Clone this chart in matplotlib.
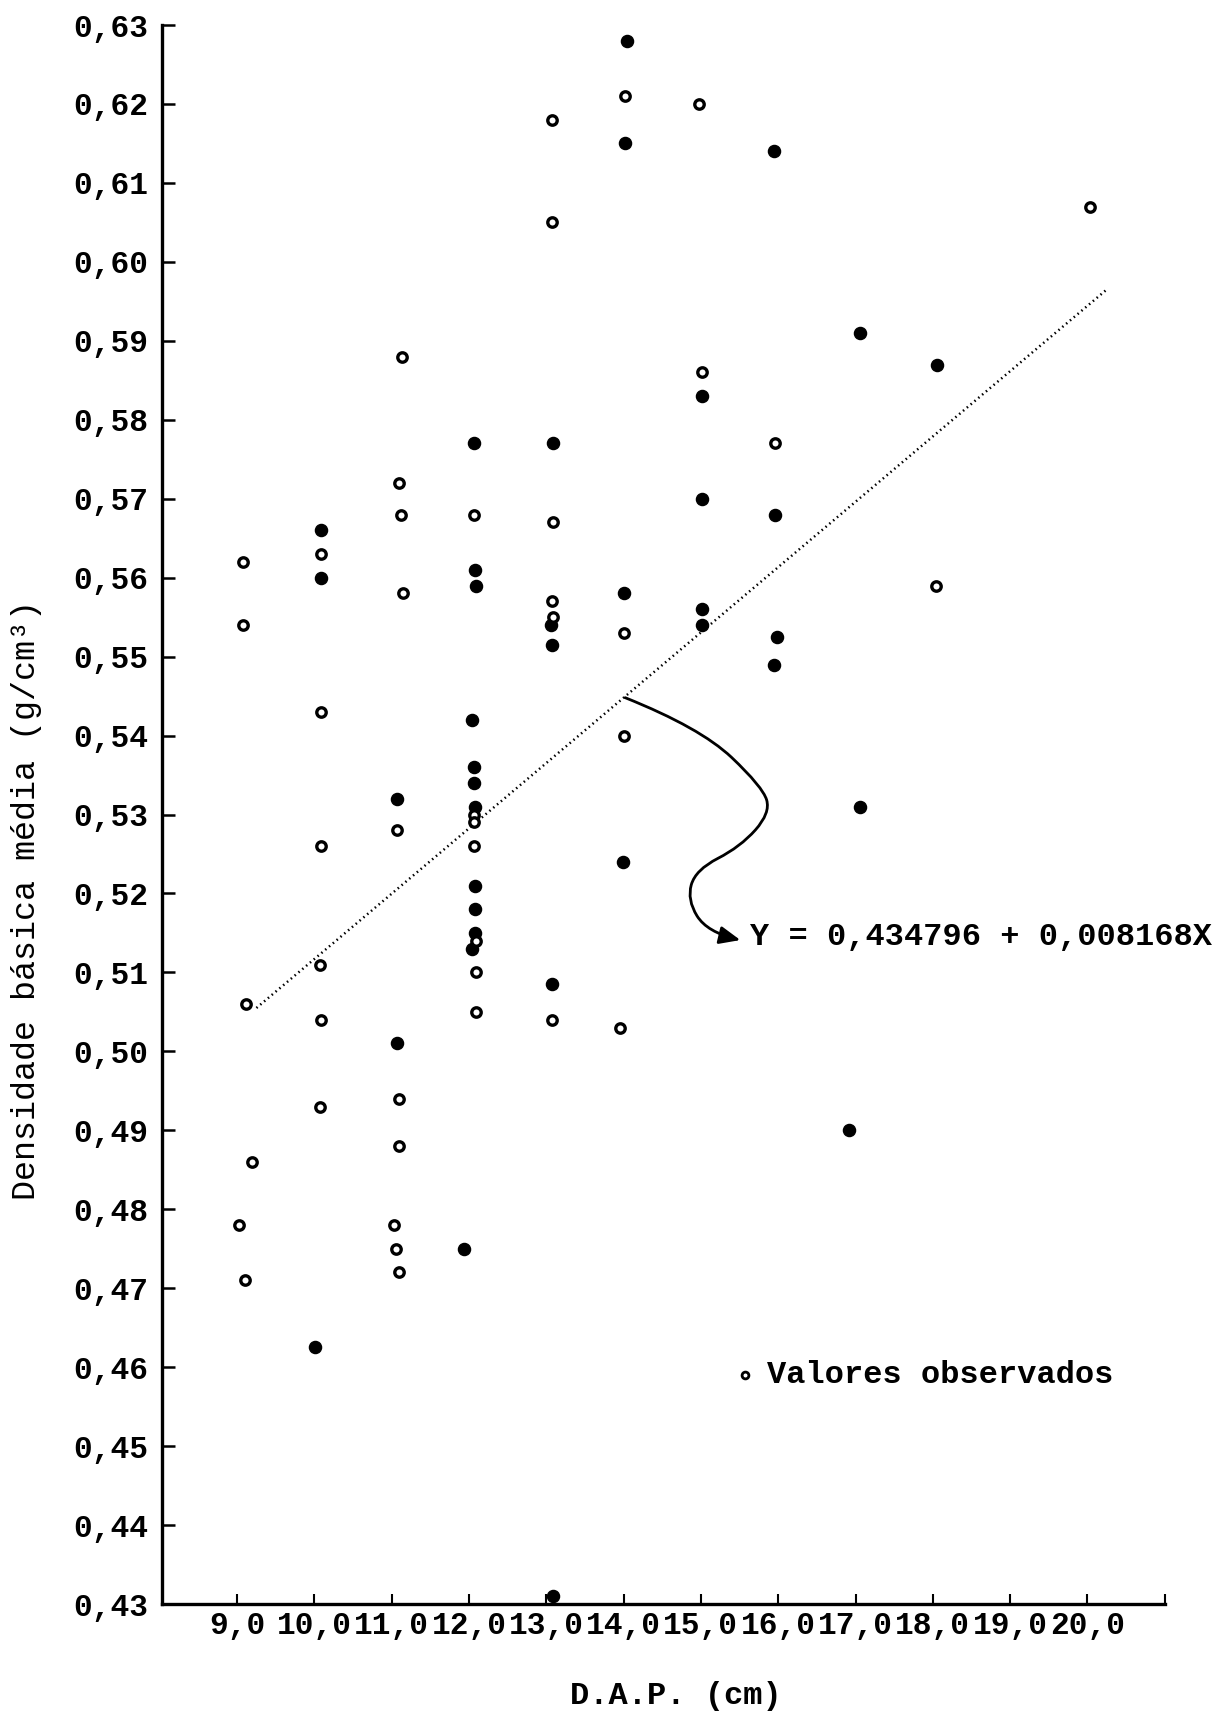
import matplotlib
matplotlib.use('Agg')
import matplotlib.pyplot as plt
from matplotlib.path import Path
from matplotlib.patches import FancyArrowPatch

plt.rcParams['font.family'] = ['Liberation Mono', 'DejaVu Sans Mono']
plt.rcParams['font.weight'] = 'bold'

# ---- data ----
open_x = [9.08, 9.08, 9.12, 9.19, 9.02, 9.10,
          10.09, 10.09, 10.09, 10.07, 10.09, 10.07,
          11.13, 11.09, 11.12, 11.14, 11.07, 11.10, 11.10, 11.03, 11.05, 11.10,
          12.06, 12.06, 12.06, 12.06, 12.09, 12.09, 12.09,
          13.07, 13.07, 13.08, 13.07, 13.08, 13.07,
          14.02, 14.00, 14.00, 13.95,
          14.98, 15.02,
          15.96,
          18.04,
          20.03]
open_y = [0.562, 0.554, 0.506, 0.486, 0.478, 0.471,
          0.563, 0.543, 0.526, 0.511, 0.504, 0.493,
          0.588, 0.572, 0.568, 0.558, 0.528, 0.494, 0.488, 0.478, 0.475, 0.472,
          0.568, 0.530, 0.529, 0.526, 0.514, 0.510, 0.505,
          0.618, 0.605, 0.567, 0.557, 0.555, 0.504,
          0.621, 0.553, 0.540, 0.503,
          0.620, 0.586,
          0.577,
          0.559,
          0.607]

filled_x = [10.09, 10.08, 10.01,
            11.07, 11.07,
            12.06, 12.08, 12.09, 12.04, 12.06, 12.07, 12.08, 12.08, 12.08, 12.08, 12.04, 11.94,
            13.08, 13.06, 13.07, 13.07, 13.08,
            14.05, 14.02, 14.00, 13.99,
            15.02, 15.02, 15.02, 15.02,
            15.94, 15.96, 15.98, 15.94,
            17.06, 17.06, 16.91,
            18.06]
filled_y = [0.566, 0.560, 0.4625,
            0.532, 0.501,
            0.577, 0.561, 0.559, 0.542, 0.536, 0.534, 0.531, 0.521, 0.518, 0.515, 0.513, 0.475,
            0.577, 0.554, 0.5515, 0.5085, 0.431,
            0.628, 0.615, 0.558, 0.524,
            0.583, 0.570, 0.556, 0.554,
            0.614, 0.568, 0.5525, 0.549,
            0.591, 0.531, 0.490,
            0.587]

reg_x = [9.25, 20.25]
reg_y = [0.5055, 0.5965]

x_ticks = [9, 10, 11, 12, 13, 14, 15, 16, 17, 18, 19, 20, 21]
x_tick_labels = ['9,0', '10,0', '11,0', '12,0', '13,0', '14,0', '15,0',
                 '16,0', '17,0', '18,0', '19,0', '20,0', '']
y_ticks = [0.43, 0.44, 0.45, 0.46, 0.47, 0.48, 0.49, 0.50, 0.51, 0.52,
           0.53, 0.54, 0.55, 0.56, 0.57, 0.58, 0.59, 0.60, 0.61, 0.62, 0.63]
y_tick_labels = ['0,43', '0,44', '0,45', '0,46', '0,47', '0,48', '0,49', '0,50',
                 '0,51', '0,52', '0,53', '0,54', '0,55', '0,56', '0,57', '0,58',
                 '0,59', '0,60', '0,61', '0,62', '0,63']

equation = 'Y = 0,434796 + 0,008168X'
legend_label = 'Valores observados'
x_label = 'D.A.P. (cm)'
y_label = 'Densidade básica média (g/cm³)'

# S-shaped pointer from the regression line to the equation
curve_x = [14.02, 14.99, 15.80, 15.90, 15.51, 14.93, 14.82, 15.08, 15.51]
curve_y = [0.5448, 0.5410, 0.5335, 0.5302, 0.5259, 0.5230, 0.5192, 0.5151, 0.5141]

# ---- figure ----
fig = plt.figure(figsize=(12.19, 17.13), dpi=100)
ax = fig.add_axes([0.1330, 0.0636, 0.8225, 0.9218])
ax.set_xlim(8.03, 21.0)
ax.set_ylim(0.43, 0.63)

for s in ['top', 'right']:
    ax.spines[s].set_visible(False)
for s in ['left', 'bottom']:
    ax.spines[s].set_linewidth(2.4)

ax.set_xticks(x_ticks)
ax.set_xticklabels(x_tick_labels)
ax.set_yticks(y_ticks)
ax.set_yticklabels(y_tick_labels)
ax.tick_params(axis='y', direction='in', length=9, width=1.8, pad=10, labelsize=22.5)
ax.tick_params(axis='x', direction='in', length=7, width=1.5, pad=5, labelsize=22.5)

# regression line
ax.plot(reg_x, reg_y, linestyle=(0, (0.6, 1.4)), color='black', linewidth=1.8, zorder=2)

# points
ax.scatter(filled_x, filled_y, s=76, color='black', zorder=3, clip_on=False)
ax.scatter(open_x, open_y, s=46, facecolors='white', edgecolors='black',
           linewidths=2.4, zorder=3, clip_on=False)

# pointer curve (quadratic smoothing through the traced points)
pts = list(zip(curve_x, curve_y))
verts = [pts[0]]
codes = [Path.MOVETO]
for i in range(1, len(pts) - 2):
    mid = ((pts[i][0] + pts[i + 1][0]) / 2, (pts[i][1] + pts[i + 1][1]) / 2)
    verts += [pts[i], mid]
    codes += [Path.CURVE3, Path.CURVE3]
verts += [pts[-2], pts[-1]]
codes += [Path.CURVE3, Path.CURVE3]
arrow = FancyArrowPatch(path=Path(verts, codes), arrowstyle='-|>,head_length=0.7,head_width=0.3',
                        mutation_scale=18, linewidth=2.0, color='black',
                        transform=ax.transData, zorder=4)
ax.add_patch(arrow)

ax.text(15.64, 0.5145, equation, ha='left', va='center', fontsize=23)

# legend
ax.scatter([15.57], [0.4590], s=24, facecolors='white', edgecolors='black', linewidths=2.0, zorder=3)
ax.text(15.86, 0.4590, legend_label, ha='left', va='center', fontsize=23)

fig.text(27 / 1219, 1 - 900 / 1713, y_label, rotation=90, ha='center', va='center',
         fontsize=24, fontweight='normal')
fig.text(676 / 1219, 1 - 1696 / 1713, x_label, ha='center', va='center', fontsize=23)

fig.savefig('out.png', dpi=100, facecolor='white')
